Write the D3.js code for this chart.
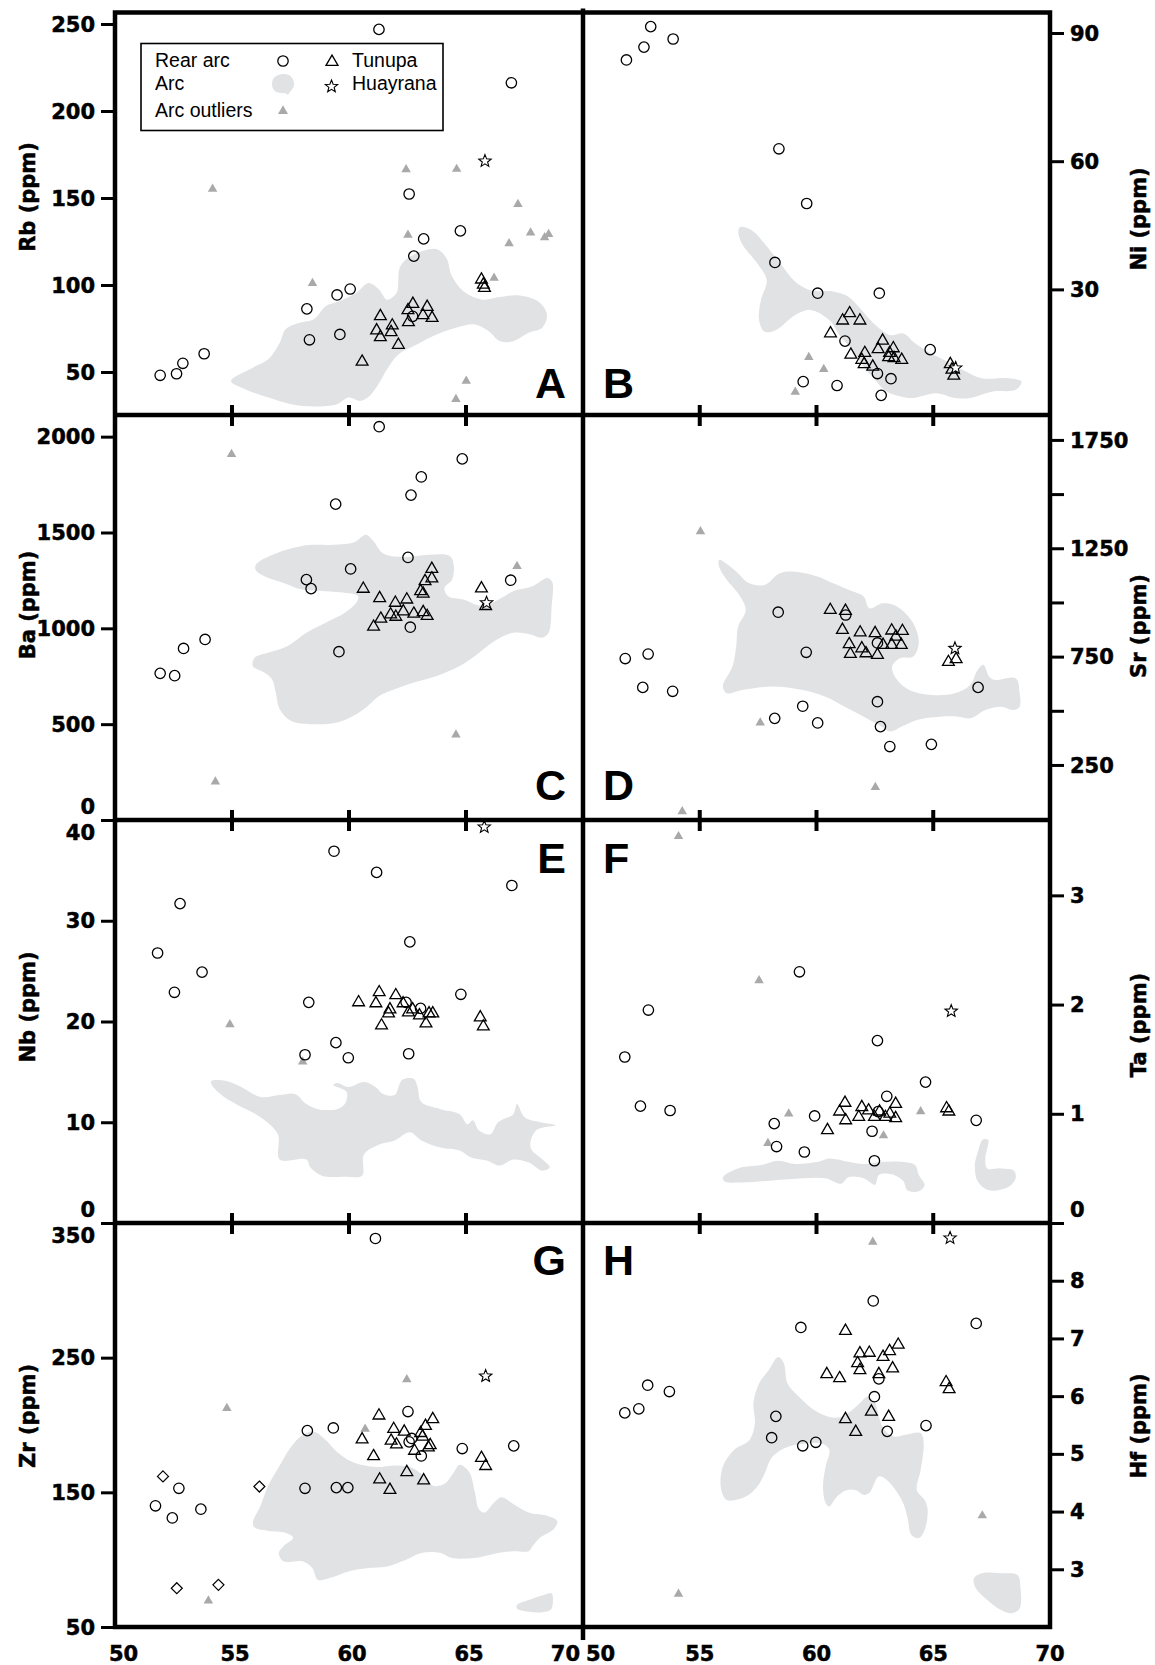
<!DOCTYPE html>
<html><head><meta charset="utf-8">
<script src="https://cdn.jsdelivr.net/npm/d3@7"></script>
<style>body{margin:0;background:#fff}svg{display:block}</style>
</head><body>
<svg id="c" width="1155" height="1665"></svg>
<script>
// ---------- DATA (SiO2 wt%, ppm) ----------
const siTicks = [50,55,60,65,70];

// A: Rb
const rbTicks = [50,100,150,200,250];
const rbRear = [[51.93,48.1],[52.63,49.0],[52.9,55.0],[53.81,60.5],[58.2,86.3],[58.31,68.5],[59.49,94.3],[60.05,97.7],[59.61,71.6],[61.28,246.9],[62.57,152.3],[62.77,116.6],[63.19,126.5],[64.76,131.1],[66.94,216.2],[62.72,82.0]];
const rbTunupa = [[60.56,55.9],[61.34,82.1],[61.18,73.9],[61.34,70.0],[61.85,76.7],[61.8,72.9],[62.11,65.6],[62.52,85.5],[62.73,89.1],[62.54,78.6],[63.16,82.6],[63.34,87.4],[63.55,81.1],[65.66,103.1],[65.74,100.2],[65.79,98.3]];
const rbHuayrana = [[65.81,171.2]];
const rbOutliers = [[54.17,155.2],[58.44,101.0],[62.44,166.4],[62.52,128.8],[64.6,166.6],[67.22,146.4],[66.84,123.9],[67.76,130.0],[68.36,127.3],[68.53,129.2],[66.2,104.0],[65.01,44.8],[64.57,34.4]];
const rbArc = [[[54.96,44.8],[55.89,52.5],[56.55,57.3],[57.04,66.8],[57.28,74.4],[57.77,77.9],[58.51,80.5],[59.0,87.8],[59.57,90.6],[60.31,95.4],[60.83,101.1],[61.29,97.3],[61.62,91.6],[62.03,95.4],[62.19,110.7],[62.77,117.4],[63.75,120.6],[64.16,115.5],[64.4,105.0],[64.89,96.4],[65.71,91.6],[66.37,92.9],[67.18,94.1],[68.08,90.6],[68.46,83.0],[68.25,75.4],[67.68,72.5],[67.02,67.7],[66.45,67.7],[65.96,73.5],[65.38,77.3],[64.57,75.4],[63.58,70.6],[62.77,64.9],[62.11,60.1],[61.62,51.5],[61.21,42.0],[60.8,35.3],[60.47,33.4],[59.98,35.3],[59.49,31.5],[58.51,30.2],[57.53,31.5],[56.55,35.3],[55.56,40.1]]];

// B: Ni
const niTicks = [30,60,90];
const niRear = [[51.86,83.7],[52.61,86.7],[52.9,91.5],[53.86,88.6],[58.39,62.9],[59.58,50.1],[58.22,36.3],[60.05,29.1],[62.69,29.1],[61.22,17.9],[64.87,15.9],[59.43,8.4],[60.88,7.5],[62.61,10.3],[63.19,9.1],[62.77,5.2]];
const niTunupa = [[61.42,24.4],[61.12,22.7],[61.86,22.7],[60.6,19.7],[61.47,14.7],[62.07,15.1],[61.94,13.5],[62.04,12.5],[62.41,11.9],[62.83,18.0],[62.64,16.0],[63.29,16.2],[63.09,14.1],[63.32,13.9],[63.65,13.5],[63.13,15.1],[65.73,12.5],[65.8,11.2],[65.88,9.8]];
const niHuayrana = [[65.96,11.6]];
const niOutliers = [[59.67,14.1],[60.31,11.3],[59.09,6.0]];
const niArc = [[[56.73,44.6],[57.21,43.9],[57.78,40.7],[58.44,36.1],[59.09,31.8],[59.74,29.8],[60.72,29.5],[61.37,28.3],[61.86,25.6],[62.51,21.7],[63.16,19.3],[63.73,19.7],[64.22,17.4],[64.87,15.1],[65.6,13.1],[66.25,11.2],[67.07,9.2],[68.21,9.2],[68.78,8.4],[68.53,6.5],[67.56,6.1],[66.58,4.6],[65.93,4.6],[65.11,5.7],[64.14,4.6],[63.65,4.9],[63.0,6.1],[62.51,8.8],[62.02,11.9],[61.53,15.8],[61.04,18.9],[60.55,22.8],[59.74,25.2],[59.09,24.0],[58.27,20.5],[57.78,20.1],[57.54,22.8],[57.62,27.5],[57.87,32.2],[57.46,36.1],[56.81,40.7],[56.65,43.5]]];

// C: Ba
const baTicks = [0,500,1000,1500,2000];
const baRear = [[61.29,2052],[64.84,1884],[63.09,1790],[62.65,1695],[59.43,1648],[62.52,1370],[60.07,1310],[58.18,1254],[58.38,1207],[66.91,1251],[53.85,942],[52.93,895],[51.93,765],[52.55,753],[59.57,878],[62.62,1006]];
const baTunupa = [[60.61,1206],[61.31,1157],[61.98,1133],[62.47,1150],[63.06,1194],[63.17,1181],[63.25,1246],[63.54,1310],[63.54,1260],[61.05,1008],[61.36,1050],[61.78,1072],[62.0,1060],[62.32,1088],[62.77,1076],[63.17,1084],[63.34,1064],[65.66,1208],[65.84,1116]];
const baHuayrana = [[65.88,1133]];
const baOutliers = [[54.98,1908],[67.18,1324],[64.57,445],[54.29,200]];
const baArc = [[[56.02,1332],[56.87,1390],[58.18,1433],[59.33,1436],[60.23,1449],[60.72,1488],[61.05,1454],[61.46,1390],[62.27,1372],[63.42,1384],[64.32,1376],[64.48,1324],[64.4,1254],[64.08,1211],[64.24,1168],[64.89,1150],[65.71,1116],[66.53,1159],[67.02,1194],[67.84,1220],[68.49,1263],[68.69,1240],[68.66,1116],[68.53,977],[68.25,951],[67.76,968],[67.02,977],[66.2,933],[65.38,855],[64.73,803],[63.75,751],[62.77,717],[61.95,682],[61.29,647],[60.8,595],[60.31,552],[59.49,509],[58.51,500],[57.53,517],[57.04,578],[56.87,665],[56.71,734],[56.38,769],[55.89,803],[55.97,847],[56.55,873],[57.36,907],[58.18,977],[59.0,1029],[59.82,1081],[60.31,1133],[60.39,1168],[59.82,1185],[59.0,1194],[58.02,1202],[57.2,1237],[56.38,1272],[56.02,1303]]];

// D: Sr
const srTicks = [250,500,750,1000,1250,1500,1750];
const srLabels = [250,750,1250,1750];
const srRear = [[51.81,741],[52.79,762],[52.56,608],[53.84,590],[58.36,955],[59.56,770],[61.25,942],[62.61,813],[66.92,608],[59.41,521],[58.21,465],[60.05,444],[62.61,542],[62.74,427],[63.14,335],[64.92,345]];
const srTunupa = [[60.59,965],[61.24,961],[61.11,873],[61.87,861],[62.51,858],[63.22,870],[63.68,868],[63.4,842],[61.4,807],[61.94,788],[62.12,765],[61.45,762],[62.61,758],[62.85,804],[63.22,804],[63.63,804],[65.65,725],[65.98,738]];
const srHuayrana = [[65.93,788]];
const srOutliers = [[55.03,1327],[57.59,445],[62.52,147],[54.25,35]];
const srArc = [[[55.83,1196],[56.48,1150],[57.13,1088],[57.78,1081],[58.43,1135],[59.09,1142],[60.07,1119],[60.72,1088],[61.37,1058],[62.02,1027],[62.26,973],[62.83,996],[63.32,988],[63.81,950],[64.22,888],[64.38,812],[64.14,750],[63.57,742],[63.24,704],[63.4,650],[63.97,596],[64.95,573],[65.93,581],[66.58,619],[66.9,688],[67.15,712],[67.39,658],[67.64,642],[68.53,650],[68.7,581],[68.7,519],[68.45,504],[67.88,519],[67.23,504],[66.58,465],[66.09,473],[65.28,473],[64.3,458],[63.65,427],[63.16,404],[62.67,435],[62.02,473],[61.21,519],[60.39,565],[59.41,596],[58.11,612],[56.81,596],[56.16,581],[55.99,612],[56.4,704],[56.56,796],[56.64,888],[56.97,965],[56.64,1042],[56.16,1104],[55.83,1165]]];

// E: Nb
const nbTicks = [0,10,20,30,40];
const nbRear = [[51.82,26.8],[52.78,31.7],[52.54,22.9],[53.72,24.9],[58.28,21.9],[58.12,16.7],[59.44,17.9],[59.97,16.4],[59.36,36.9],[61.18,34.8],[62.6,27.9],[64.78,22.7],[66.96,33.5],[62.55,16.8],[62.44,21.9],[63.06,21.3]];
const nbTunupa = [[60.41,21.9],[61.29,22.9],[61.15,21.8],[62.0,22.6],[61.75,21.2],[61.69,20.8],[62.31,21.8],[62.54,20.9],[62.72,21.2],[63.01,20.6],[61.39,19.6],[63.29,19.8],[63.42,20.8],[63.58,20.8],[65.61,20.4],[65.74,19.5]];
const nbHuayrana = [[65.78,39.3]];
const nbOutliers = [[54.91,19.7],[58.02,16.0]];
const nbArc = [[[54.12,14.1],[54.75,14.1],[55.4,13.5],[56.22,12.5],[57.04,12.7],[57.69,12.8],[58.18,11.8],[58.67,11.3],[59.49,11.3],[59.82,11.8],[59.9,13.0],[59.33,13.7],[59.49,13.9],[59.98,13.5],[60.64,14.0],[61.13,13.5],[61.46,12.8],[61.95,12.7],[62.27,14.2],[62.77,14.3],[62.93,13.5],[63.09,12.0],[63.91,11.3],[64.73,10.8],[65.06,9.8],[65.3,10.2],[65.55,9.2],[66.04,8.8],[66.37,10.0],[67.02,10.8],[67.18,11.8],[67.5,10.5],[68.17,10.0],[68.82,9.7],[68.0,9.2],[67.76,7.5],[68.33,6.2],[68.58,5.5],[68.25,5.2],[67.68,6.0],[67.02,6.3],[66.45,5.7],[65.88,6.2],[65.22,6.5],[64.73,7.2],[63.91,7.5],[63.09,8.2],[62.6,9.0],[61.95,8.2],[61.29,7.8],[60.64,6.8],[60.56,4.7],[59.82,4.6],[58.84,4.7],[58.35,5.5],[58.18,6.3],[57.04,6.3],[56.96,8.8],[56.22,10.5],[55.24,11.7],[54.5,12.8],[54.12,13.8]]];

// F: Ta
const taTicks = [0,1,2,3];
const taRear = [[51.79,1.52],[52.8,1.95],[52.46,1.07],[53.73,1.03],[58.19,0.91],[58.29,0.70],[59.48,0.65],[59.27,2.30],[59.92,0.98],[62.38,0.84],[62.48,0.57],[62.61,1.67],[63.01,1.16],[64.67,1.29],[66.84,0.94],[62.64,1.02]];
const taTunupa = [[60.47,0.85],[60.99,1.02],[61.22,1.10],[61.25,0.94],[61.81,0.97],[61.94,1.06],[62.23,1.03],[62.48,0.97],[62.7,1.02],[62.95,0.97],[63.14,1.0],[63.39,1.09],[63.39,0.96],[65.57,1.05],[65.67,1.02]];
const taHuayrana = [[65.77,1.94]];
const taOutliers = [[54.09,3.54],[57.54,2.22],[58.81,1.0],[57.92,0.73],[62.87,0.80],[64.46,1.02]];
const taArc = [
  [[55.99,0.42],[56.64,0.50],[57.62,0.53],[58.35,0.57],[59.09,0.54],[60.07,0.56],[60.55,0.59],[61.37,0.56],[62.02,0.54],[62.83,0.56],[63.65,0.56],[64.22,0.53],[64.38,0.44],[64.63,0.35],[64.38,0.29],[63.89,0.30],[63.73,0.38],[63.32,0.44],[62.67,0.44],[62.51,0.35],[62.02,0.41],[61.37,0.42],[61.04,0.36],[60.39,0.41],[59.41,0.41],[58.11,0.39],[56.81,0.37],[56.07,0.38]],
  [[67.23,0.77],[67.36,0.76],[67.23,0.59],[67.31,0.50],[67.88,0.50],[68.45,0.48],[68.53,0.41],[68.21,0.33],[67.39,0.30],[66.91,0.38],[66.78,0.53],[66.91,0.65],[67.1,0.76]]
];

// G: Zr
const zrTicks = [50,150,250,350];
const zrRear = [[61.13,338.5],[62.52,210],[58.22,195.8],[59.33,197.8],[62.68,190],[62.57,187.5],[63.09,177],[64.84,182.5],[67.04,184.5],[52.73,153],[51.73,140],[52.45,131],[53.67,137.5],[58.12,153],[59.46,153.5],[59.95,153.5]];
const zrTunupa = [[61.28,207],[63.58,204.3],[63.27,199.3],[61.91,197],[62.36,195],[63.06,194],[63.14,191.3],[60.56,189.3],[61.8,188.3],[62.03,185.5],[63.47,185],[63.39,183.3],[62.8,180.8],[61.05,176.8],[62.47,165],[61.31,159.5],[63.19,158.8],[61.75,151.8],[65.66,175.5],[65.84,169.5]];
const zrHuayrana = [[65.84,236.3]];
const zrOutliers = [[54.78,212.5],[62.47,233.8],[60.69,197],[53.99,69.5]];
const zrOther = [[52.05,161.8],[56.17,154.3],[52.64,78.8],[54.42,81.3]];
const zrArc = [
  [[55.89,127.5],[56.22,140],[56.55,155],[57.04,170],[57.53,183.8],[58.02,192.5],[58.51,195],[59.0,188.8],[59.49,180],[60.15,172.5],[61.13,168.8],[61.95,170],[62.6,168.8],[63.09,163.8],[63.58,155],[64.08,156.3],[64.48,165],[64.73,170.5],[65.14,165],[65.38,150],[65.55,137.5],[65.79,135],[66.2,142.5],[66.53,146.3],[67.02,141.3],[67.68,135],[68.49,132.5],[68.9,128.8],[68.74,122.5],[68.17,116.3],[67.84,110],[67.68,106.3],[67.02,106.3],[66.37,105],[65.38,101.3],[64.4,101.3],[63.91,105],[63.09,105],[62.44,100],[61.62,95],[60.8,93.8],[59.98,91.3],[59.17,86.3],[58.67,85],[58.43,93.8],[58.02,98.8],[57.2,98.8],[57.0,105],[57.2,110],[57.61,116.3],[57.28,120],[56.55,121.3],[55.97,123.8]],
  [[67.18,66.3],[67.68,70],[68.33,73.8],[68.66,75],[68.66,63.8],[68.41,61.3],[67.68,61.3],[67.18,63.8]]
];

// H: Hf
const hfTicks = [3,4,5,6,7,8];
const hfRear = [[51.79,5.71],[52.39,5.78],[52.77,6.19],[53.7,6.08],[58.26,5.65],[58.08,5.28],[59.41,5.14],[59.97,5.20],[59.33,7.19],[62.43,7.65],[66.84,7.26],[62.67,6.30],[62.48,5.99],[63.03,5.39],[64.69,5.49]];
const hfTunupa = [[61.24,7.13],[63.5,6.89],[61.86,6.74],[62.26,6.75],[63.13,6.78],[62.85,6.68],[61.76,6.57],[61.86,6.45],[63.26,6.48],[60.44,6.38],[60.99,6.31],[62.67,6.38],[65.55,6.24],[65.68,6.12],[61.24,5.6],[62.35,5.73],[63.09,5.64],[61.68,5.38]];
const hfHuayrana = [[65.72,8.74]];
const hfOutliers = [[62.41,8.67],[67.1,3.93],[54.09,2.57]];
const hfArc = [
  [[55.91,4.40],[55.99,4.78],[56.48,5.07],[57.13,5.24],[57.36,5.53],[57.3,5.88],[57.54,6.22],[57.95,6.45],[58.36,6.68],[58.6,6.57],[58.76,6.22],[59.25,5.99],[59.9,5.76],[60.55,5.64],[61.04,5.64],[61.53,5.76],[61.86,5.88],[62.18,5.99],[62.51,5.88],[62.67,5.64],[62.92,5.41],[63.32,5.30],[63.81,5.33],[64.46,5.36],[64.59,5.18],[64.46,4.72],[64.3,4.37],[64.63,4.2],[64.76,4.03],[64.63,3.68],[64.38,3.54],[64.06,3.6],[63.89,3.91],[63.65,4.2],[63.0,4.55],[62.67,4.61],[62.26,4.32],[62.02,4.29],[61.69,4.37],[61.29,4.37],[60.88,4.26],[60.55,4.09],[60.39,4.15],[60.28,4.43],[60.39,4.78],[60.55,5.07],[60.23,5.18],[59.58,5.18],[58.76,5.12],[58.11,4.95],[57.78,4.66],[57.46,4.43],[56.97,4.26],[56.16,4.2]],
  [[66.74,2.84],[67.07,2.93],[67.88,2.93],[68.61,2.90],[68.73,2.70],[68.7,2.32],[68.37,2.24],[67.88,2.30],[67.23,2.50],[66.82,2.67]]
];

// ---------- LAYOUT ----------
const X0 = 115, XM = 583, X1 = 1050;
const ROWS = [12.5, 415, 820, 1223, 1627];
const BLOB = '#e1e2e4', OUTC = '#a9a9a9';
const TICKFONT = '"DejaVu Sans", sans-serif';
const TFS = 21;

const panels = [
  {id:'A', col:0, row:0, title:'Rb (ppm)', ty:197, dom:[25.3,256.6], ticks:rbTicks, labels:rbTicks, rear:rbRear, tun:rbTunupa, hua:rbHuayrana, out:rbOutliers, arc:rbArc, shift:{}, letterY:398},
  {id:'B', col:1, row:0, title:'Ni (ppm)', ty:219, dom:[0.6,94.8], ticks:niTicks, labels:niTicks, rear:niRear, tun:niTunupa, hua:niHuayrana, out:niOutliers, arc:niArc, shift:{}, letterY:398},
  {id:'C', col:0, row:1, title:'Ba (ppm)', ty:605, dom:[0,2113], ticks:baTicks, labels:baTicks, rear:baRear, tun:baTunupa, hua:baHuayrana, out:baOutliers, arc:baArc, shift:{0:-14}, letterY:800},
  {id:'D', col:1, row:1, title:'Sr (ppm)', ty:626, dom:[-4,1865], ticks:srTicks, labels:srLabels, rear:srRear, tun:srTunupa, hua:srHuayrana, out:srOutliers, arc:srArc, shift:{}, letterY:800},
  {id:'E', col:0, row:2, title:'Nb (ppm)', ty:1007, dom:[0,40], ticks:nbTicks, labels:nbTicks, rear:nbRear, tun:nbTunupa, hua:nbHuayrana, out:nbOutliers, arc:nbArc, shift:{0:-14, 40:12}, letterY:873},
  {id:'F', col:1, row:2, title:'Ta (ppm)', ty:1025, dom:[0,3.69], ticks:taTicks, labels:taTicks, rear:taRear, tun:taTunupa, hua:taHuayrana, out:taOutliers, arc:taArc, shift:{0:-14}, letterY:873},
  {id:'G', col:0, row:3, title:'Zr (ppm)', ty:1416, dom:[50,350], ticks:zrTicks, labels:zrTicks, rear:zrRear, tun:zrTunupa, hua:zrHuayrana, out:zrOutliers, other:zrOther, arc:zrArc, shift:{350:12}, letterY:1275},
  {id:'H', col:1, row:3, title:'Hf (ppm)', ty:1426, dom:[2,9], ticks:hfTicks, labels:hfTicks, rear:hfRear, tun:hfTunupa, hua:hfHuayrana, out:hfOutliers, arc:hfArc, shift:{}, letterY:1275}
];

// ---------- SYMBOLS ----------
function triPath(s){const h=s*Math.sqrt(3)/2;return `M0,${-2*h/3}L${s/2},${h/3}L${-s/2},${h/3}Z`;}
function starPath(R,r){let p='';for(let i=0;i<10;i++){const a=-Math.PI/2+i*Math.PI/5;const rr=i%2?r:R;p+=(i?'L':'M')+(rr*Math.cos(a)).toFixed(2)+','+(rr*Math.sin(a)).toFixed(2);}return p+'Z';}
function diaPath(d){return `M0,${-d}L${d},0L0,${d}L${-d},0Z`;}

const svg = d3.select('#c');
const defs = svg.append('defs');
const blobLine = d3.line().curve(d3.curveCatmullRomClosed.alpha(0.5));
function heavy(sel){return sel.attr('stroke','#000').attr('stroke-width',0.5).attr('paint-order','stroke');}

panels.forEach(p => {
  const xr = p.col === 0 ? [X0, XM] : [XM, X1];
  const x = d3.scaleLinear().domain([50,70]).range(xr);
  const y = d3.scaleLinear().domain(p.dom).range([ROWS[p.row+1], ROWS[p.row]]);
  const g = svg.append('g');
  const cid = 'clip' + p.id;
  defs.append('clipPath').attr('id', cid).append('rect')
    .attr('x', xr[0]).attr('y', ROWS[p.row]).attr('width', xr[1]-xr[0]).attr('height', ROWS[p.row+1]-ROWS[p.row]);
  g.append('g').attr('clip-path', `url(#${cid})`).selectAll('path').data(p.arc).join('path')
    .attr('d', poly => blobLine(poly.map(d => [x(d[0]), y(d[1])])))
    .attr('fill', BLOB).attr('stroke', 'none');
  g.selectAll('.out').data(p.out).join('path').attr('class','out')
    .attr('transform', d => `translate(${x(d[0])},${y(d[1])})`)
    .attr('d', triPath(9.5)).attr('fill', OUTC);
  g.selectAll('.rear').data(p.rear).join('circle').attr('class','rear')
    .attr('cx', d => x(d[0])).attr('cy', d => y(d[1])).attr('r', 5.2)
    .attr('fill', 'none').attr('stroke', '#000').attr('stroke-width', 1.3);
  g.selectAll('.tun').data(p.tun).join('path').attr('class','tun')
    .attr('transform', d => `translate(${x(d[0])},${y(d[1])})`)
    .attr('d', triPath(11.8)).attr('fill', 'none').attr('stroke', '#000').attr('stroke-width', 1.3);
  g.selectAll('.hua').data(p.hua).join('path').attr('class','hua')
    .attr('transform', d => `translate(${x(d[0])},${y(d[1])})`)
    .attr('d', starPath(6.5,2.8)).attr('fill', '#fff').attr('stroke', '#000').attr('stroke-width', 1.1);
  if (p.other) {
    g.selectAll('.oth').data(p.other).join('path').attr('class','oth')
      .attr('transform', d => `translate(${x(d[0])},${y(d[1])})`)
      .attr('d', diaPath(5.5)).attr('fill', 'none').attr('stroke', '#000').attr('stroke-width', 1.2);
  }
  const ax = (p.col === 0 ? d3.axisLeft(y) : d3.axisRight(y))
    .tickValues(p.ticks).tickSize(14).tickPadding(6)
    .tickFormat(d => p.labels.includes(d) ? d : '');
  const ag = svg.append('g').attr('transform', `translate(${p.col===0?X0:X1},0)`).call(ax);
  ag.select('.domain').remove();
  ag.selectAll('.tick line').attr('stroke', '#000').attr('stroke-width', 3)
    .filter(d => d === 350 && p.id === 'G').remove();
  heavy(ag.selectAll('.tick text').attr('font-family', TICKFONT).attr('font-weight', 'bold')
    .attr('font-size', TFS).attr('fill', '#000')
    .attr('dy', d => (0.34*TFS + (p.shift[d] || 0)) + 'px'));
  const tx = p.col === 0 ? 27 : 1138;
  heavy(svg.append('text').attr('transform', `translate(${tx},${p.ty}) rotate(-90)`)
    .attr('text-anchor', 'middle').attr('dy', '0.36em')
    .attr('font-family', TICKFONT).attr('font-weight', 'bold').attr('font-size', 21)
    .text(p.title));
  svg.append('text').attr('x', p.col === 0 ? 566 : 603).attr('y', p.letterY)
    .attr('text-anchor', p.col === 0 ? 'end' : 'start')
    .attr('font-family', '"Liberation Sans", Arial, sans-serif').attr('font-weight', 'bold')
    .attr('font-size', 43).text(p.id);
});

// ---------- FRAMES ----------
const fr = svg.append('g').attr('stroke', '#000').attr('fill', 'none');
fr.append('rect').attr('x', X0).attr('y', ROWS[0]).attr('width', X1-X0).attr('height', ROWS[4]-ROWS[0]).attr('stroke-width', 4.5);
[1,2,3].forEach(i => fr.append('line').attr('x1', X0).attr('x2', X1).attr('y1', ROWS[i]).attr('y2', ROWS[i]).attr('stroke-width', 4.5));
fr.append('line').attr('x1', XM).attr('x2', XM).attr('y1', ROWS[0]-4).attr('y2', ROWS[4]+13).attr('stroke-width', 4.5);
[0,1].forEach(col => {
  const x = d3.scaleLinear().domain([50,70]).range(col === 0 ? [X0, XM] : [XM, X1]);
  [1,2,3].forEach(i => {
    fr.selectAll(null).data(siTicks.filter(t => t > 50 && t < 70)).join('line')
      .attr('x1', d => x(d)).attr('x2', d => x(d))
      .attr('y1', ROWS[i]-10).attr('y2', ROWS[i]+11).attr('stroke-width', 4);
  });
  heavy(svg.append('g').selectAll('text').data(siTicks).join('text')
    .attr('x', d => {
      if (col === 0 && d === 50) return x(d) - 6;
      if (col === 0 && d === 70) return x(d) - 3;
      if (col === 1 && d === 50) return x(d) + 3;
      return x(d) + (col === 0 ? 3 : 0);
    })
    .attr('y', 1661)
    .attr('text-anchor', d => (d === 50 ? 'start' : (d === 70 && col === 0 ? 'end' : 'middle')))
    .attr('font-family', TICKFONT).attr('font-weight', 'bold').attr('font-size', TFS)
    .text(d => d));
});

// ---------- LEGEND ----------
const lg = svg.append('g');
lg.append('rect').attr('x', 141).attr('y', 43.5).attr('width', 302).attr('height', 87)
  .attr('fill', '#fff').attr('stroke', '#000').attr('stroke-width', 1.6);
const LF = '"Liberation Sans", Arial, sans-serif';
const legendRows = [['Rear arc',155,66.7],['Arc',155,90],['Arc outliers',155,116.7],['Tunupa',352,66.7],['Huayrana',352,90]];
lg.selectAll('text').data(legendRows).join('text')
  .attr('x', d => d[1]).attr('y', d => d[2]).attr('font-family', LF).attr('font-size', 19.5).text(d => d[0]);
lg.append('circle').attr('cx', 283).attr('cy', 61).attr('r', 5.2).attr('fill', 'none').attr('stroke', '#000').attr('stroke-width', 1.3);
lg.append('path').attr('transform', 'translate(283,85)')
  .attr('d', 'M-11,-1C-11,-9 -4,-11 1,-11C7,-11 11,-7 11,-1C11,4 7,6 5,10C3,8 1,8 -2,8C-8,8 -11,4 -11,-1Z')
  .attr('fill', BLOB);
lg.append('path').attr('transform', 'translate(283,111)').attr('d', triPath(10)).attr('fill', OUTC);
lg.append('path').attr('transform', 'translate(332,62)').attr('d', triPath(12)).attr('fill', 'none').attr('stroke', '#000').attr('stroke-width', 1.3);
lg.append('path').attr('transform', 'translate(331.5,86.5)').attr('d', starPath(6.5,2.8)).attr('fill', '#fff').attr('stroke', '#000').attr('stroke-width', 1.1);
</script>
</body></html>
